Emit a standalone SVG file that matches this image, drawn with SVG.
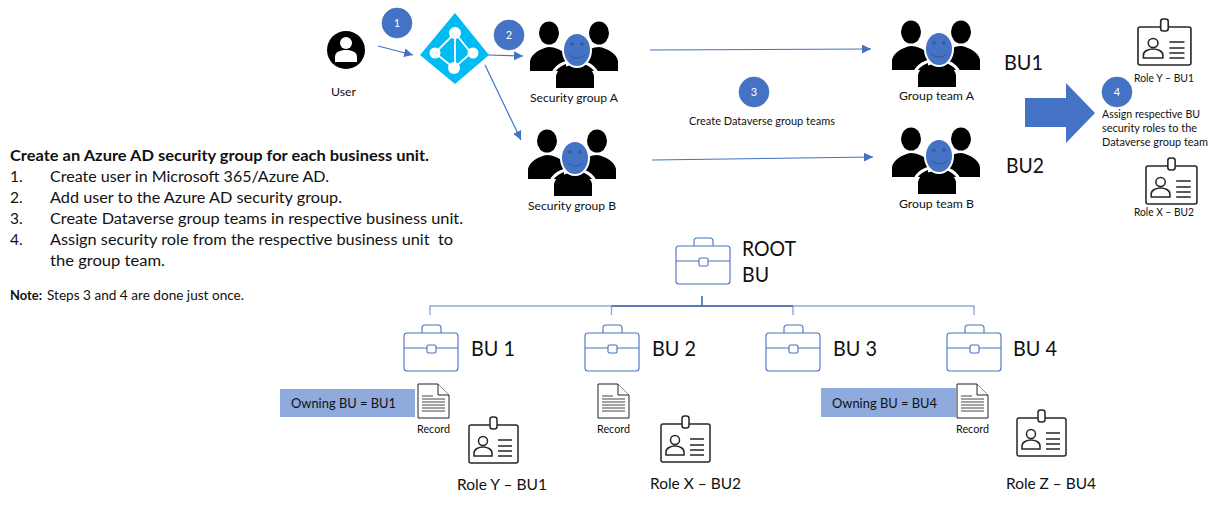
<svg xmlns="http://www.w3.org/2000/svg" width="1218" height="505" viewBox="0 0 1218 505">
<style>
text{font-family:"Lato","Open Sans","Liberation Sans",sans-serif;fill:#111}
.b{font-weight:700}
.s15{font-size:15.5px}
.s13{font-size:13px}
.s11{font-size:11px}
.s22{font-size:21.5px}
.s16{font-size:15.5px}
.m{font-size:14px}
.n{fill:#fff;font-size:11px;text-anchor:middle}
.step{fill:#4472c4;stroke:#3f6cb8;stroke-width:.6}
.arrow{stroke:#4472c4;stroke-width:1.2;fill:none;marker-end:url(#ah)}
.tree{stroke:#8ea9d6;stroke-width:1.4;fill:none}
.treed{stroke:#3f66ad;stroke-width:1.6;fill:none}
.case{fill:#fff;stroke:#4472c4;stroke-width:1.1}
.bdg{fill:#fff;stroke:#262626;stroke-width:1.5}
.bl{stroke:#262626;stroke-width:1.5;fill:none}
.doc{fill:#fff;stroke:#222;stroke-width:1}
.dl{stroke:#444;stroke-width:1;fill:none}
.own{fill:#8faadc}
</style>
<defs>
<marker id="ah" markerUnits="userSpaceOnUse" markerWidth="10" markerHeight="10" refX="9" refY="4.5" orient="auto"><path d="M0 0L9 4.5L0 9z" fill="#4472c4"/></marker>
<g id="people">
<ellipse cx="19" cy="11" rx="10" ry="11.5"/>
<ellipse cx="69" cy="11" rx="10" ry="11.5"/>
<path d="M0 49V39C1 32 11 26 19 25C25 25 31 28 36 32V49Z"/>
<path d="M88 49V39C87 32 77 26 69 25C63 25 57 28 52 32V49Z"/>
<path d="M26 66V54C27 47 36 43 45 43C54 43 63 47 64 54V66Z"/>
<path d="M22 54C24 45 34 39 45 39C56 39 66 45 68 54" fill="none" stroke="#fff" stroke-width="3"/>
<ellipse cx="47" cy="28" rx="14" ry="17" fill="#4472c4" stroke="#fff" stroke-width="2"/>
<circle cx="42" cy="22" r="1.8" fill="#35599c"/><circle cx="52" cy="22" r="1.8" fill="#35599c"/>
<path d="M39 33Q47 39 55 33" fill="none" stroke="#35599c" stroke-width="1"/>
</g>
<g id="case">
<path class="case" d="M18 8V3Q18 0 21 0H34Q37 0 37 3V8" fill="none"/>
<rect class="case" x="0" y="8" width="54" height="38" rx="3"/>
<path class="case" d="M0 23H23M32 23H54"/>
<rect class="case" x="23" y="20" width="9" height="8" rx="1.5"/>
</g>
<g id="badge">
<rect class="bdg" x="0" y="8" width="49" height="38" rx="2"/>
<rect class="bdg" x="21" y="0" width="7" height="12" rx="2.5"/>
<circle class="bl" cx="14" cy="24" r="4.5"/>
<path class="bl" d="M5 39V36C5 32 10 30 14 30C18 30 23 32 23 36V39Z"/>
<path class="bl" d="M29 23H43M29 29H43M29 34H43M29 39H43"/>
</g>
<g id="doc">
<path class="doc" d="M0 0H20L31 11V34H0Z"/>
<path class="doc" d="M20 0V11H31" fill="none"/>
<path class="dl" d="M4 12H15M4 15H27M4 18H27M4 21H27M4 24H27M4 27H27"/>
</g>
</defs>
<rect width="1218" height="505" fill="#fff"/>

<g id="connectors">
<path class="arrow" d="M378 46L413 55"/>
<path class="arrow" d="M488 55L523 56"/>
<path class="arrow" d="M485 65L521 140"/>
<path class="arrow" d="M650 50L871 49"/>
<path class="arrow" d="M652 160L873 157"/>
<path class="tree" d="M430 315V306H974V315M611.500 315V306M793 315V306"/>
<path class="treed" d="M611.500 306H793M702 296V306"/>
</g>

<g id="user">
<circle cx="346" cy="50" r="19"/>
<circle cx="346" cy="43" r="6" fill="#fff"/>
<path d="M335 62V57C335 52 340 50 346 50C352 50 357 52 357 57V62Z" fill="#fff"/>
<text class="s11" x="331" y="96" textLength="25" lengthAdjust="spacingAndGlyphs">User</text>
</g>

<g id="azure-ad">
<path d="M455 13L489 55L455 84L420 55Z" fill="#00bcf2"/>
<path d="M455 33L471 53L454 68L435 53Z" fill="#00bcf2" stroke="#fff" stroke-width="1.8"/>
<path d="M455 33V68" stroke="#fff" stroke-width="1.8"/>
<circle cx="455" cy="33" r="6" fill="#fff"/><circle cx="435" cy="53" r="5.500" fill="#fff"/><circle cx="473" cy="53" r="5.500" fill="#fff"/><circle cx="454" cy="68" r="6" fill="#fff"/>
</g>

<g id="step-1"><circle class="step" cx="397" cy="23" r="15"/><text class="n" x="397" y="27">1</text></g>
<g id="step-2"><circle class="step" cx="509" cy="35" r="15"/><text class="n" x="509" y="39">2</text></g>
<g id="step-3"><circle class="step" cx="754" cy="92" r="15"/><text class="n" x="754" y="96">3</text></g>
<g id="step-4"><circle class="step" cx="1117" cy="92" r="15"/><text class="n" x="1117" y="96">4</text></g>

<g id="security-group-a"><use href="#people" x="530" y="22"/><text class="s11" x="530" y="102" textLength="88" lengthAdjust="spacingAndGlyphs">Security group A</text></g>
<g id="security-group-b"><use href="#people" x="528" y="130"/><text class="s11" x="528" y="210" textLength="88" lengthAdjust="spacingAndGlyphs">Security group B</text></g>
<g id="group-team-a"><use href="#people" x="892" y="21"/><text class="s11" x="899" y="100" textLength="75" lengthAdjust="spacingAndGlyphs">Group team A</text></g>
<g id="group-team-b"><use href="#people" x="892" y="128"/><text class="s11" x="899" y="208" textLength="75" lengthAdjust="spacingAndGlyphs">Group team B</text></g>

<text class="s11" x="689" y="125" textLength="146" lengthAdjust="spacingAndGlyphs">Create Dataverse group teams</text>
<text class="s22" x="1004" y="70" textLength="39" lengthAdjust="spacingAndGlyphs">BU1</text>
<text class="s22" x="1006" y="173" textLength="38" lengthAdjust="spacingAndGlyphs">BU2</text>

<path id="big-arrow" d="M1025 98H1066V83L1095 113L1066 143V127H1025Z" fill="#4472c4"/>

<g id="role-y-top"><use href="#badge" transform="translate(1138 19) scale(1.08 1)"/><text class="s11" x="1134" y="82" textLength="60" lengthAdjust="spacingAndGlyphs">Role Y – BU1</text></g>
<g id="role-x-top"><use href="#badge" transform="translate(1146 158) scale(1.04 1)"/><text class="s11" x="1134" y="216" textLength="60" lengthAdjust="spacingAndGlyphs">Role X – BU2</text></g>
<g id="assign-text">
<text class="s11" x="1102" y="118" textLength="98" lengthAdjust="spacingAndGlyphs">Assign respective BU</text>
<text class="s11" x="1102" y="132" textLength="95" lengthAdjust="spacingAndGlyphs">security roles to the</text>
<text class="s11" x="1102" y="146" textLength="106" lengthAdjust="spacingAndGlyphs">Dataverse group team</text>
</g>

<g id="steps-text">
<text class="s15 b" x="10" y="161" textLength="419" lengthAdjust="spacingAndGlyphs">Create an Azure AD security group for each business unit.</text>
<text class="s15" x="10" y="182">1.</text>
<text class="s15" x="50" y="182" textLength="279" lengthAdjust="spacingAndGlyphs">Create user in Microsoft 365/Azure AD.</text>
<text class="s15" x="10" y="203">2.</text>
<text class="s15" x="50" y="203" textLength="292" lengthAdjust="spacingAndGlyphs">Add user to the Azure AD security group.</text>
<text class="s15" x="10" y="224">3.</text>
<text class="s15" x="50" y="224" textLength="413" lengthAdjust="spacingAndGlyphs">Create Dataverse group teams in respective business unit.</text>
<text class="s15" x="10" y="245">4.</text>
<text class="s15" x="50" y="245" textLength="403" lengthAdjust="spacingAndGlyphs" xml:space="preserve">Assign security role from the respective business unit  to</text>
<text class="s15" x="50" y="266" textLength="115" lengthAdjust="spacingAndGlyphs">the group team.</text>
<text class="s13 b" x="10" y="300" textLength="32" lengthAdjust="spacingAndGlyphs">Note:</text>
<text class="s13" x="47" y="300" textLength="197" lengthAdjust="spacingAndGlyphs">Steps 3 and 4 are done just once.</text>
</g>

<g id="root-bu"><use href="#case" x="676" y="238"/><text class="s22" x="742" y="256" textLength="54" lengthAdjust="spacingAndGlyphs">ROOT</text><text class="s22" x="742" y="282" textLength="27" lengthAdjust="spacingAndGlyphs">BU</text></g>
<g id="bu-1"><use href="#case" x="404" y="325"/><text class="s22" x="471" y="356" textLength="44" lengthAdjust="spacingAndGlyphs">BU 1</text></g>
<g id="bu-2"><use href="#case" x="585" y="325"/><text class="s22" x="652" y="356" textLength="44" lengthAdjust="spacingAndGlyphs">BU 2</text></g>
<g id="bu-3"><use href="#case" x="766" y="325"/><text class="s22" x="833" y="356" textLength="44" lengthAdjust="spacingAndGlyphs">BU 3</text></g>
<g id="bu-4"><use href="#case" x="947" y="325"/><text class="s22" x="1013" y="356" textLength="44" lengthAdjust="spacingAndGlyphs">BU 4</text></g>

<g id="owning-bu1"><rect class="own" x="280" y="389" width="135" height="28"/><text class="m" x="291" y="408" textLength="105" lengthAdjust="spacingAndGlyphs">Owning BU = BU1</text></g>
<g id="owning-bu4"><rect class="own" x="821" y="388" width="135" height="29"/><text class="m" x="832" y="408" textLength="105" lengthAdjust="spacingAndGlyphs">Owning BU = BU4</text></g>

<g id="record-1"><use href="#doc" x="418" y="384"/><text class="s11" x="417" y="433" textLength="33" lengthAdjust="spacingAndGlyphs">Record</text></g>
<g id="record-2"><use href="#doc" x="598" y="384"/><text class="s11" x="597" y="433" textLength="33" lengthAdjust="spacingAndGlyphs">Record</text></g>
<g id="record-3"><use href="#doc" x="957" y="384"/><text class="s11" x="956" y="433" textLength="33" lengthAdjust="spacingAndGlyphs">Record</text></g>

<g id="role-y"><use href="#badge" x="469" y="417"/><text class="s16" x="457" y="490" textLength="90" lengthAdjust="spacingAndGlyphs">Role Y – BU1</text></g>
<g id="role-x"><use href="#badge" x="661" y="416"/><text class="s16" x="650" y="489" textLength="91" lengthAdjust="spacingAndGlyphs">Role X – BU2</text></g>
<g id="role-z"><use href="#badge" x="1017" y="410"/><text class="s16" x="1006" y="489" textLength="90" lengthAdjust="spacingAndGlyphs">Role Z – BU4</text></g>
</svg>
